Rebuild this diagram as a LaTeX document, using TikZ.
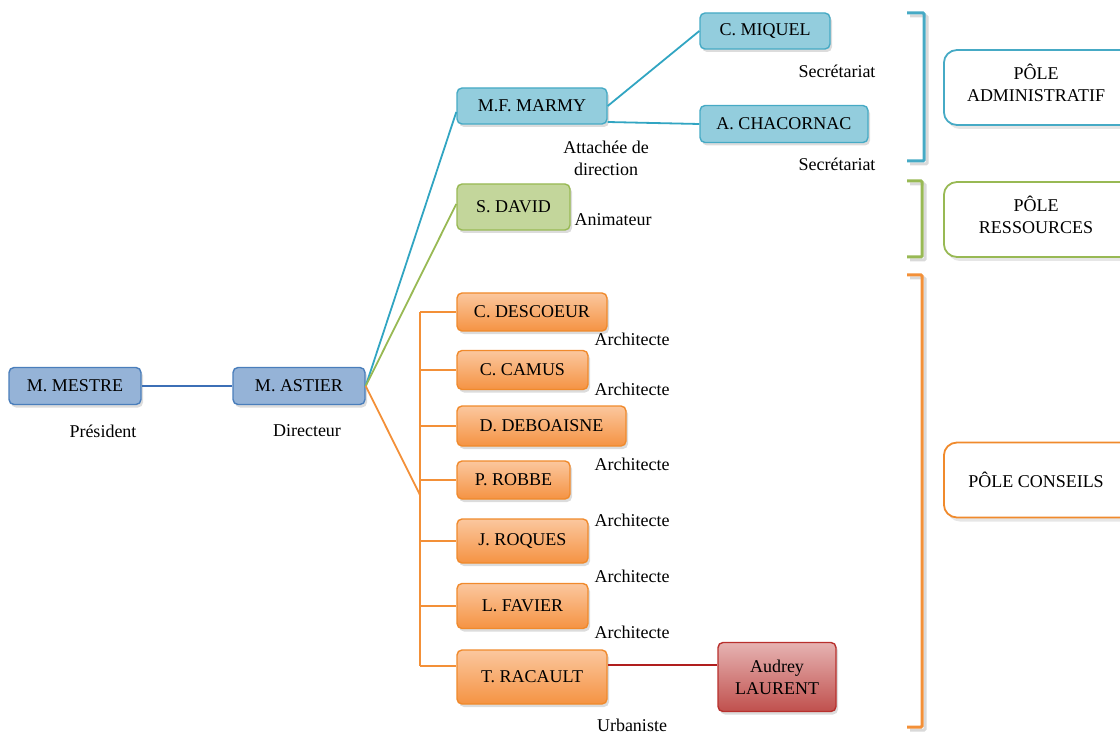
\documentclass[tikz,border=0pt]{standalone}
\usepackage{fontspec}
\setmainfont{Liberation Serif}
\usetikzlibrary{shadows,calc}

\definecolor{navyfill}{HTML}{95B3D7}
\definecolor{navyedge}{HTML}{4A7EBB}
\definecolor{navyline}{HTML}{3C6FB6}
\definecolor{cyanfill}{HTML}{93CDDD}
\definecolor{cyanedge}{HTML}{46AAC5}
\definecolor{cyanline}{HTML}{31A5C2}
\definecolor{greenfill}{HTML}{C3D69B}
\definecolor{greenedge}{HTML}{98B954}
\definecolor{orangetop}{HTML}{FBC79E}
\definecolor{orangebot}{HTML}{F59343}
\definecolor{orangeedge}{HTML}{F08A2C}
\definecolor{orangeline}{HTML}{F39038}
\definecolor{redtop}{HTML}{E6B3B2}
\definecolor{redbot}{HTML}{C0504D}
\definecolor{rededge}{HTML}{B8302D}
\definecolor{redline}{HTML}{B01E1E}

\tikzset{
  txt/.style={font=\fontsize{18pt}{22pt}\selectfont, align=center},
  box/.style={txt, rounded corners=5pt, line width=1.4pt, inner sep=0pt,
    drop shadow={opacity=0.28, shadow xshift=2pt, shadow yshift=-3pt}},
  navybox/.style={box, draw=navyedge, fill=navyfill},
  cyanbox/.style={box, draw=cyanedge, fill=cyanfill},
  greenbox/.style={box, draw=greenedge, fill=greenfill},
  orangebox/.style={box, draw=orangeedge, top color=orangetop, bottom color=orangebot},
  redbox/.style={box, draw=rededge, top color=redtop, bottom color=redbot},
  role/.style={txt, inner sep=0pt},
  link/.style={line width=1.8pt, draw=#1},
  polebox/.style={rounded corners=13pt, line width=1.8pt, fill=white, draw=#1,
    anchor=west, minimum width=200pt, minimum height=75pt,
    drop shadow={opacity=0.2, shadow xshift=3pt, shadow yshift=-4pt}},
  bracket/.style={line width=3pt, draw=#1, rounded corners=1pt},
  bracketshade/.style={line width=3pt, draw=black, opacity=0.15, rounded corners=1pt},
}

\begin{document}
\begin{tikzpicture}[x=1pt,y=-1pt]
\useasboundingbox (0,0) rectangle (1120,738);
\clip (0,0) rectangle (1120,738);

% direction
\node[navybox, minimum width=132pt, minimum height=37pt] (mestre) at (75,386) {M. MESTRE};
\node[navybox, minimum width=132pt, minimum height=37pt] (astier) at (299,386) {M. ASTIER};
\node[role] (lpres) at (103,431) {Président};
\node[role] (ldir) at (307,431) {Directeur};

% administrative branch
\node[cyanbox, minimum width=150pt, minimum height=36pt] (marmy) at (532,106) {M.F. MARMY};
\node[cyanbox, minimum width=130pt, minimum height=36pt] (miquel) at (765,31) {C. MIQUEL};
\node[cyanbox, minimum width=168pt, minimum height=37pt] (chacornac) at (784,124) {A. CHACORNAC};
\node[role] (lmarmy) at (606,158) {Attachée de\\direction};
\node[role] (lmiquel) at (837,71) {Secrétariat};
\node[role] (lchac) at (837,164) {Secrétariat};

% resources
\node[greenbox, minimum width=113pt, minimum height=46pt] (david) at (513.5,207) {S. DAVID};
\node[role] (ldavid) at (613,220) {Animateur};

% advice
\node[orangebox, minimum width=150pt, minimum height=38pt] (descoeur) at (532,312) {C. DESCOEUR};
\node[orangebox, minimum width=131pt, minimum height=39pt] (camus) at (522.5,370) {C. CAMUS};
\node[orangebox, minimum width=169pt, minimum height=40pt] (deboaisne) at (541.5,426) {D. DEBOAISNE};
\node[orangebox, minimum width=113pt, minimum height=38pt] (robbe) at (513.5,480) {P. ROBBE};
\node[orangebox, minimum width=131pt, minimum height=44pt] (roques) at (522.5,541) {J. ROQUES};
\node[orangebox, minimum width=131pt, minimum height=45pt] (favier) at (522.5,606) {L. FAVIER};
\node[orangebox, minimum width=150pt, minimum height=54pt] (racault) at (532,677) {T. RACAULT};
\node[redbox, minimum width=118pt, minimum height=69pt] (laurent) at (777,677) {Audrey\\LAURENT};

\node[role] (l1) at (632,339) {Architecte};
\node[role] (l2) at (632,389) {Architecte};
\node[role] (l3) at (632,464) {Architecte};
\node[role] (l4) at (632,520) {Architecte};
\node[role] (l5) at (632,576) {Architecte};
\node[role] (l6) at (632,632) {Architecte};
\node[role] (l7) at (632,725) {Urbaniste};

% connectors
\draw[link=navyline] (mestre) -- (astier);
\draw[link=cyanline] (astier.east) -- ($(marmy.west)+(0,6)$);
\draw[link=greenedge] (astier.east) -- ($(david.west)+(0,-3)$);
\draw[link=cyanline] (marmy.east) -- (miquel.west);
\draw[link=cyanline] ($(marmy.east)+(0,16)$) -- (chacornac.west);

\coordinate (spine) at (420,495);
\coordinate (rtap) at ($(racault.west)+(0,-11)$);
\draw[link=orangeline] (astier.east) -- (spine);
\draw[link=orangeline] (spine |- descoeur.west) -- (spine |- rtap);
\foreach \n in {descoeur,camus,deboaisne,robbe,roques,favier}
  \draw[link=orangeline] (spine |- \n.west) -- (\n.west);
\draw[link=orangeline] (spine |- rtap) -- (rtap);
\draw[link=redline] ($(racault.east)+(0,-12)$) -- ($(laurent.west)+(0,-12)$);

% pole brackets
\draw[bracketshade] (910,16) -- (927,16) -- (927,164) -- (910,164);
\draw[bracket=cyanedge] (907,13) -- (924,13) -- (924,161) -- (907,161);
\draw[bracketshade] (910,184) -- (925,184) -- (925,260) -- (910,260);
\draw[bracket=greenedge] (907,181) -- (922,181) -- (922,257) -- (907,257);
\draw[bracketshade] (910,278) -- (925,278) -- (925,730) -- (910,730);
\draw[bracket=orangeline] (907,275) -- (922,275) -- (922,727) -- (907,727);

% pole labels
\node[polebox=cyanedge] (padm) at (943,87.5) {};
\node[role] (tadm) at (1036,83) {PÔLE\\ADMINISTRATIF};
\node[polebox=greenedge] (pres) at (943,219.5) {};
\node[role] (tres) at (1036,215) {PÔLE\\RESSOURCES};
\node[polebox=orangeedge] (pcon) at (943,480) {};
\node[role] (tcon) at (1036,480) {PÔLE CONSEILS};
\end{tikzpicture}
\end{document}
